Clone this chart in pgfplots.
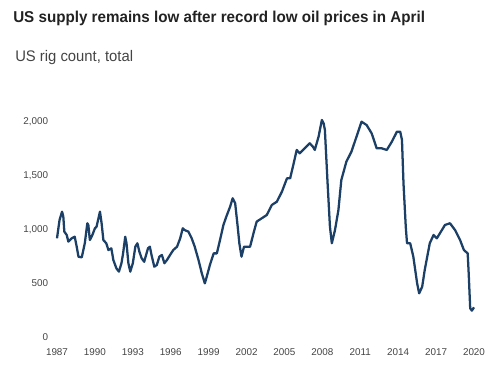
\documentclass[border=0pt]{standalone}
\usepackage{pgfplots}
\pgfplotsset{compat=1.18}
\usepackage{fontspec}
\setmainfont{Liberation Sans}
\definecolor{linecol}{HTML}{1B3F66}
\definecolor{tickcol}{HTML}{444444}
\definecolor{titlecol}{HTML}{222222}
\begin{document}
\begin{tikzpicture}
\path[use as bounding box] (0pt,0pt) rectangle (375pt,276.75pt);
\node[anchor=base west,inner sep=0pt,text=titlecol] at (9.75pt,260.25pt) {\scalebox{0.965}[1]{\fontsize{11.8}{13}\selectfont\bfseries US supply remains low after record low oil prices in April}};
\node[anchor=base west,inner sep=0pt,text=tickcol] at (11.25pt,231pt) {\scalebox{0.967}[1]{\fontsize{11.5}{13}\selectfont US rig count, total}};
\begin{axis}[
  at={(42.75pt,24pt)}, anchor=south west,
  scale only axis, width=312.75pt, height=161.25pt,
  xmin=1987, xmax=2020, ymin=0, ymax=2000,
  clip=false,
  axis line style={draw=none},
  major tick length=0pt,
  xtick={1987,1990,...,2020},
  ytick={0,500,1000,1500,2000},
  /pgf/number format/assume math mode=true,
  xticklabel style={/pgf/number format/1000 sep={}, inner sep=0pt, anchor=north, yshift=-8.5pt},
  yticklabel style={/pgf/number format/1000 sep={,}, inner sep=0pt, anchor=east, xshift=-6.5pt},
  ticklabel style={font=\fontsize{7.4}{9}\selectfont, text=tickcol},
]
\addplot[linecol, line width=1.7pt, line join=round] coordinates {
(1987.0,918) (1987.2,1088) (1987.4,1166) (1987.5,1120) (1987.58,980) (1987.77,949)
(1987.9,887) (1988.16,918) (1988.4,933) (1988.56,840) (1988.7,747) (1988.96,741)
(1989.2,872) (1989.4,1058) (1989.48,1042) (1989.6,902) (1989.8,949) (1990.0,1011)
(1990.13,1026) (1990.4,1166) (1990.53,1058) (1990.67,902) (1990.9,872) (1991.07,809)
(1991.3,825) (1991.46,716) (1991.7,639) (1991.9,608) (1992.1,686) (1992.23,778)
(1992.4,933) (1992.5,872) (1992.65,686) (1992.8,608) (1993.0,686) (1993.2,840)
(1993.36,872) (1993.52,794) (1993.7,732) (1993.9,700) (1994.05,763) (1994.2,825)
(1994.35,840) (1994.48,763) (1994.7,654) (1994.9,670) (1995.1,747) (1995.3,763)
(1995.5,686) (1995.7,716) (1995.95,763) (1996.2,809) (1996.5,840) (1996.75,918)
(1996.95,1011) (1997.1,995) (1997.4,980) (1997.66,918) (1997.9,840) (1998.2,716)
(1998.46,592) (1998.7,499) (1998.85,561) (1999.1,670) (1999.4,778) (1999.65,778)
(1999.9,902) (2000.17,1042) (2000.4,1120) (2000.7,1212) (2000.9,1290) (2001.1,1244)
(2001.3,1026) (2001.43,872) (2001.6,747) (2001.8,840) (2002.15,840) (2002.28,840)
(2002.55,965) (2002.8,1073) (2003.2,1104) (2003.6,1135) (2004.0,1228) (2004.4,1259)
(2004.8,1352) (2005.2,1476) (2005.45,1476) (2005.7,1600) (2005.97,1740) (2006.2,1709)
(2006.6,1755) (2007.0,1802) (2007.25,1771) (2007.4,1740) (2007.7,1863) (2007.96,2019)
(2008.1,1988) (2008.2,1926) (2008.4,1460) (2008.6,1026) (2008.75,872) (2009.0,995)
(2009.27,1181) (2009.5,1460) (2009.9,1631) (2010.3,1724) (2010.7,1863) (2011.1,2003)
(2011.5,1972) (2011.9,1895) (2012.3,1755) (2012.7,1755) (2013.1,1740) (2013.5,1817)
(2013.9,1910) (2014.16,1910) (2014.3,1833) (2014.42,1430) (2014.6,1026) (2014.7,872)
(2014.95,872) (2015.2,747) (2015.5,499) (2015.66,406) (2015.9,468) (2016.1,623)
(2016.5,872) (2016.8,949) (2017.06,918) (2017.46,995) (2017.7,1042) (2018.1,1058)
(2018.5,995) (2018.9,902) (2019.2,809) (2019.5,778) (2019.58,592) (2019.7,267)
(2019.83,245) (2020.0,276)
};
\end{axis}
\end{tikzpicture}
\end{document}
